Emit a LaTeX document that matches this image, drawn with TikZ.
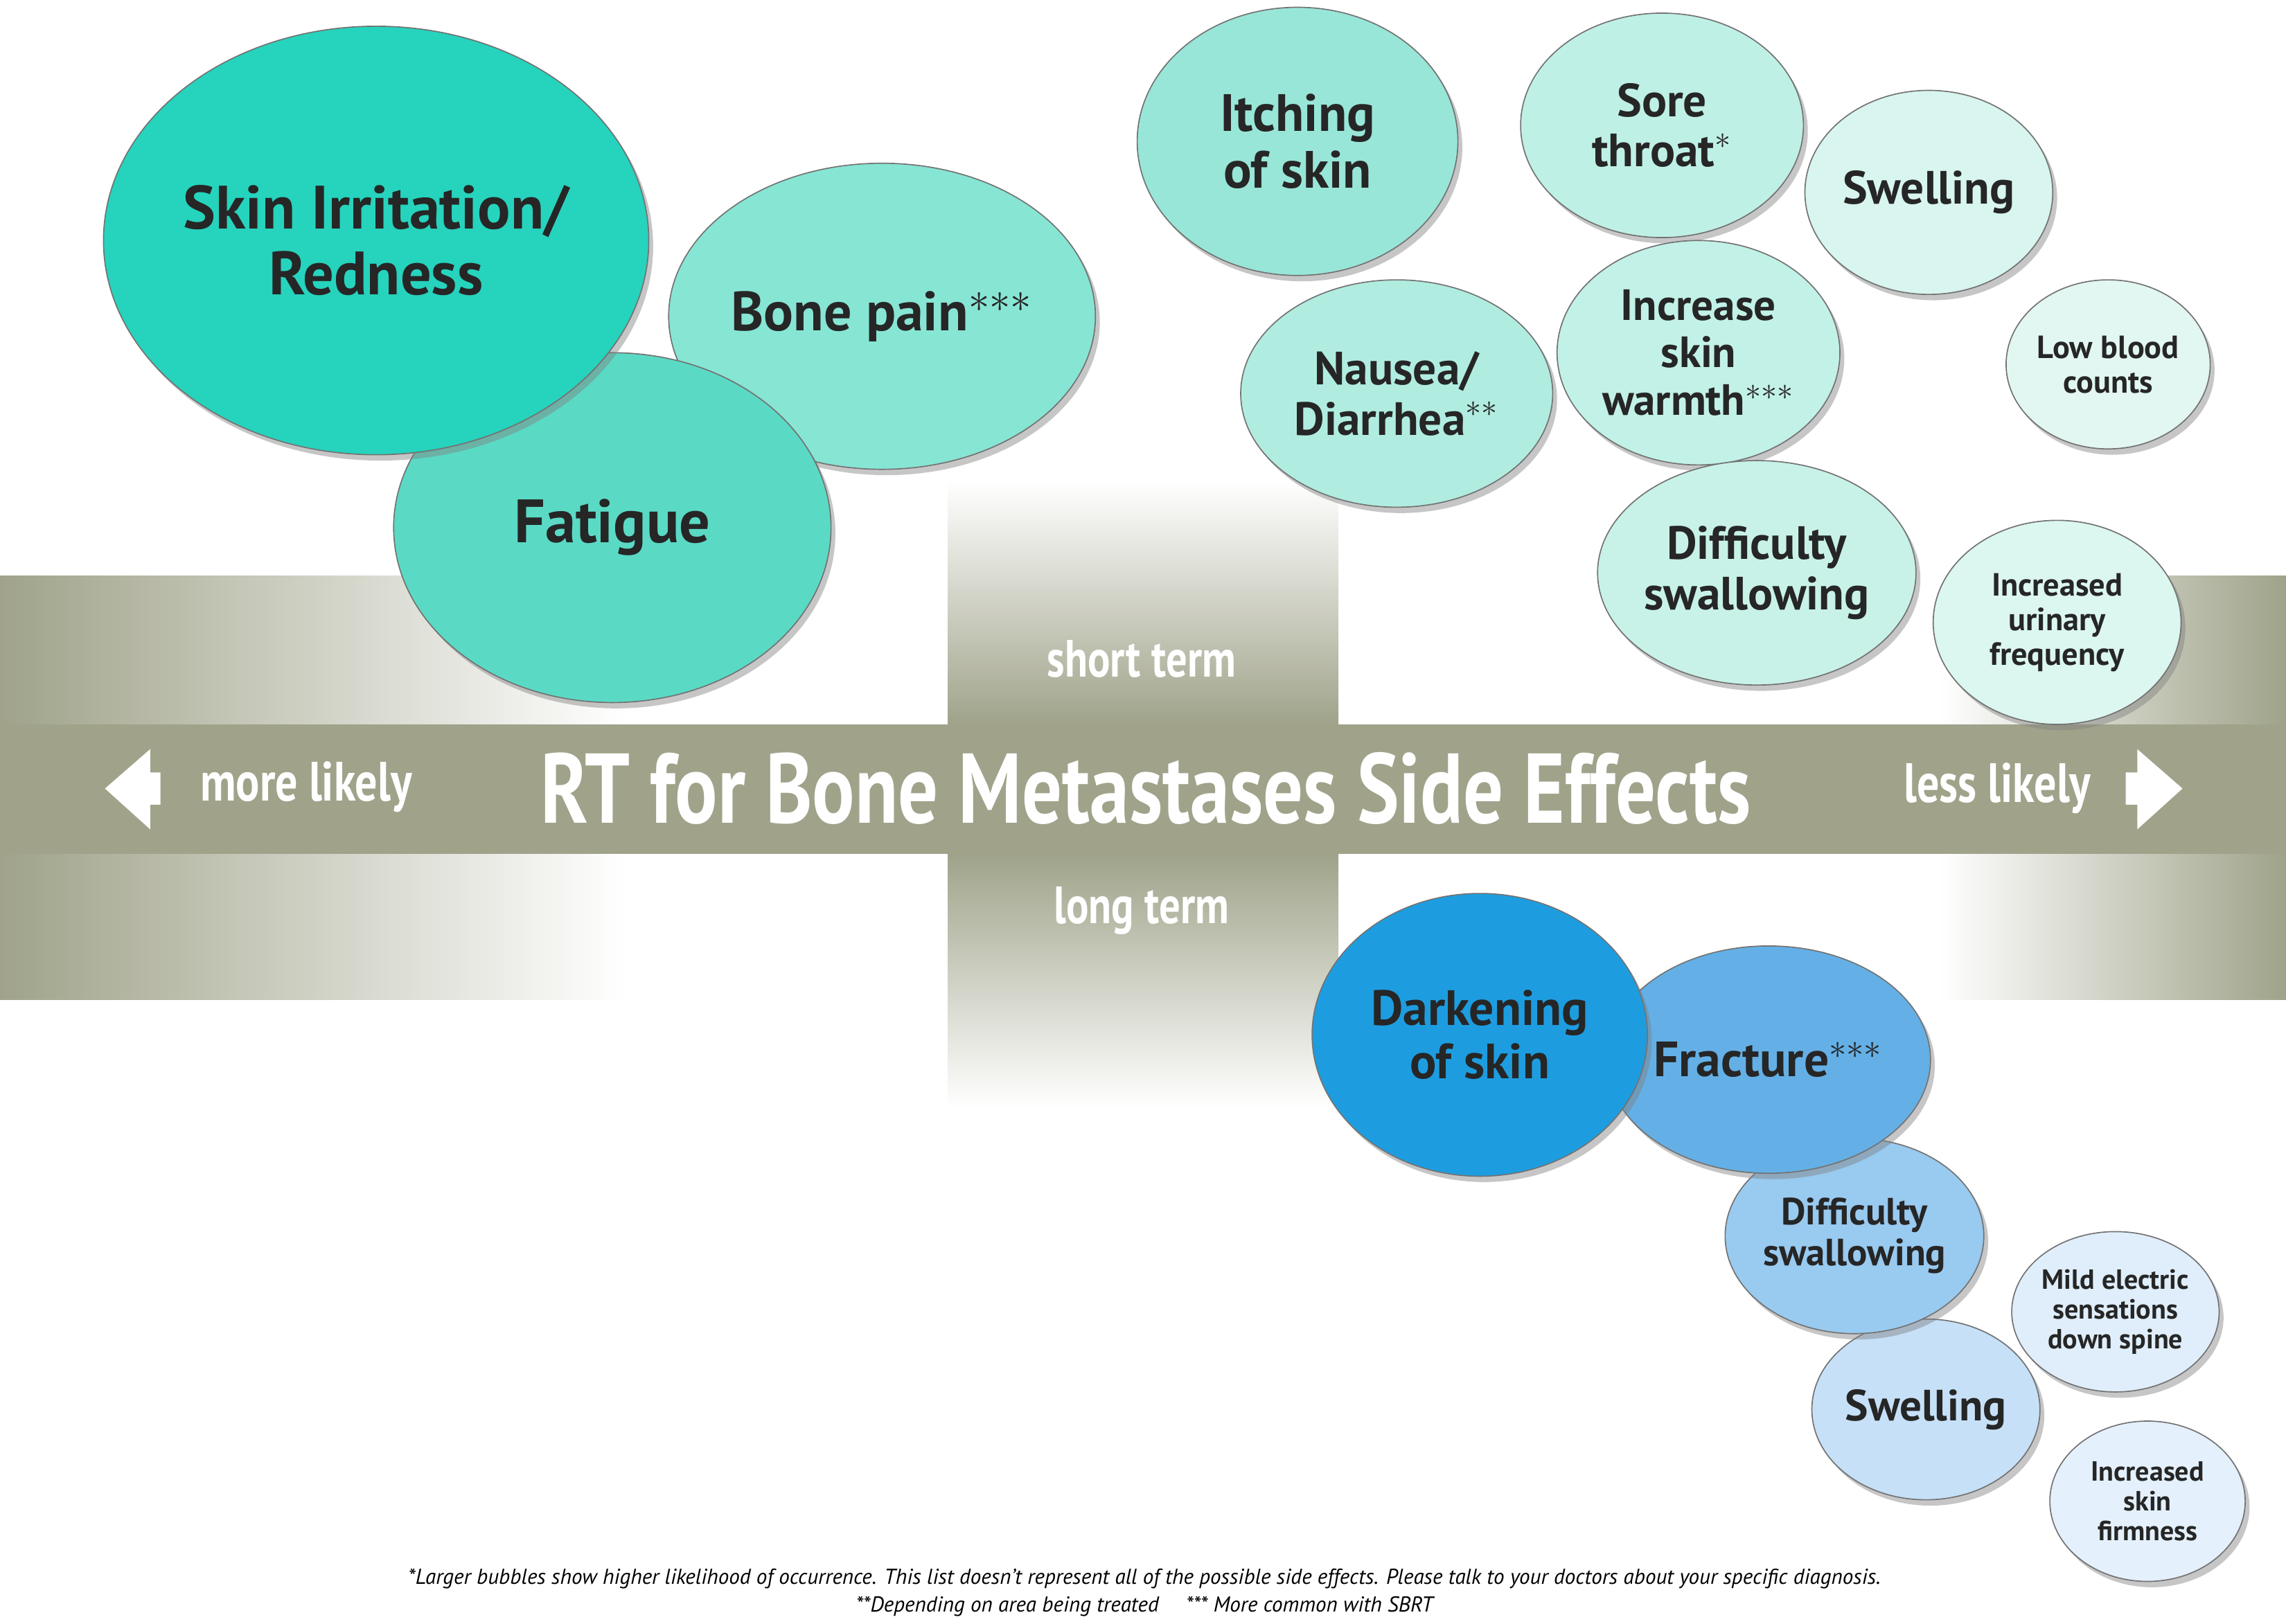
\documentclass[tikz,border=0pt]{standalone}
\usepackage{fontspec}
\setmainfont{PT Sans}
\usetikzlibrary{shapes.geometric,shadows}
\definecolor{band}{RGB}{160,163,138}
\newcommand{\sz}[1]{\fontsize{#1pt}{1.08\dimexpr#1pt\relax}\selectfont}
\newcommand{\Cond}[1]{\scalebox{0.8}[1]{#1}}
\tikzset{
  bubble/.style={ellipse, draw=black!55, line width=0.4pt, align=center, inner sep=0pt,
    font=\bfseries\sz{#1}, text=black!85,
    drop shadow={shadow xshift=1.5pt, shadow yshift=-2pt, opacity=0.45}},
  size/.style 2 args={minimum width=0.5*#1pt, minimum height=0.5*#2pt},
  white text/.style={text=white, font=\bfseries}
}
\begin{document}
\begin{tikzpicture}[x=0.5pt,y=-0.5pt]
\useasboundingbox (0,0) rectangle (1568,1114);

% background bands
\shade[left color=band, right color=white] (0,395) rectangle (430,686);
\shade[left color=white, right color=band] (1330,395) rectangle (1568,686);
\shade[top color=white, bottom color=band] (650,330) rectangle (918,497);
\shade[top color=band, bottom color=white] (650,586) rectangle (918,760);
\fill[band] (0,497) rectangle (1568,586);

% arrows
\fill[white] (72,541) -- (103,514) -- (103,530) -- (110,530) -- (110,552) -- (103,552) -- (103,569) -- cycle;
\fill[white] (1497,541) -- (1466,514) -- (1466,530) -- (1458,530) -- (1458,552) -- (1466,552) -- (1466,569) -- cycle;

% bar texts
\node[white text] (title) at (786,541) {\sz{34}\Cond{RT for Bone Metastases Side Effects}};
\node[white text] (more) at (210,540) {\sz{19}\Cond{more likely}};
\node[white text] (less) at (1370,541) {\sz{19}\Cond{less likely}};
\node[white text] (short) at (783,452) {\sz{18}\Cond{short term}};
\node[white text] (long) at (783,625) {\sz{18}\Cond{long term}};

% short term bubbles
\node[bubble=19, fill={rgb,255:red,135;green,229;blue,212}, size={250}{210}] (bone) at (605,217) {Bone pain$^{***}$};
\node[bubble=21, fill={rgb,255:red,90;green,218;blue,197}, size={300}{240}] (fatigue) at (420,362) {Fatigue};
\node[bubble=21, fill={rgb,255:red,38;green,211;blue,189}, size={364}{294}] (skin) at (258,165) {Skin Irritation/\\Redness};
\node[bubble=18, fill={rgb,255:red,152;green,230;blue,216}, size={220}{184}] (itch) at (890,97) {Itching\\of skin};
\node[bubble=16, fill={rgb,255:red,191;green,240;blue,230}, size={194}{154}] (sore) at (1140,86) {Sore\\throat$^{*}$};
\node[bubble=16, fill={rgb,255:red,216;green,245;blue,239}, size={170}{140}] (swell) at (1323,132) {Swelling};
\node[bubble=16, fill={rgb,255:red,176;green,237;blue,224}, size={214}{156}] (nausea) at (958,270) {Nausea/\\Diarrhea$^{**}$};
\node[bubble=15, fill={rgb,255:red,194;green,241;blue,231}, size={194}{154}] (warm) at (1165,242) {Increase\\skin\\warmth$^{***}$};
\node[bubble=11, fill={rgb,255:red,226;green,247;blue,242}, size={140}{116}] (blood) at (1446,250) {Low blood\\counts};
\node[bubble=16, fill={rgb,255:red,200;green,242;blue,232}, size={194}{154}] (swallow) at (1205,393) {Difficulty\\swallowing};
\node[bubble=11, fill={rgb,255:red,220;green,246;blue,240}, size={170}{140}] (urin) at (1411,427) {Increased\\urinary\\frequency};

% long term bubbles
\node[bubble=9.5, fill={rgb,255:red,228;green,240;blue,251}, size={134}{110}] (firm) at (1473,1030) {Increased\\skin\\firmness};
\node[bubble=9.5, fill={rgb,255:red,223;green,238;blue,250}, size={130}{110}] (mild) at (1451,900) {Mild electric\\sensations\\down spine};
\node[bubble=15, fill={rgb,255:red,198;green,224;blue,247}, size={150}{124}] (swell2) at (1321,967) {Swelling};
\node[bubble=13, fill={rgb,255:red,153;green,202;blue,240}, size={166}{134}] (swallow2) at (1272,848) {Difficulty\\swallowing};
\node[bubble=17, fill={rgb,255:red,100;green,176;blue,230}, size={200}{156}] (fract) at (1213,727) {Fracture$^{***}$};
\node[bubble=17, fill={rgb,255:red,29;green,157;blue,224}, size={230}{194}] (dark) at (1015,710) {Darkening\\of skin};

% footnote
\node[font=\itshape\sz{7.4}] (note1) at (785,1083) {*Larger bubbles show higher likelihood of occurrence. This list doesn't represent all of the possible side effects. Please talk to your doctors about your specific diagnosis.};
\node[font=\itshape\sz{7.4}] (note2) at (785,1102) {**Depending on area being treated \quad *** More common with SBRT};
\end{tikzpicture}
\end{document}
